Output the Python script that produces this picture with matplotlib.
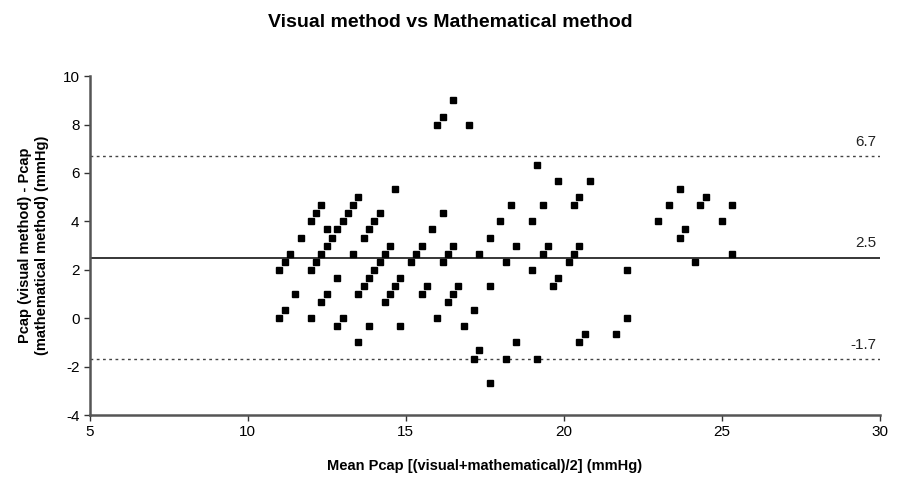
import matplotlib
matplotlib.use("Agg")
import matplotlib.pyplot as plt

plt.rcParams['font.family'] = ['Liberation Sans', 'DejaVu Sans']
plt.rcParams['axes.unicode_minus'] = False

# Bland-Altman data: mean of both methods (x) and difference (y), mmHg
mean_pcap = [11.0, 11.17, 11.33, 11.0, 11.17, 11.5, 11.67,
             12.0, 12.17, 12.33, 12.5, 12.67, 12.5, 12.33, 12.17, 12.0, 12.83, 12.5, 12.33, 12.0, 12.83, 13.0,
             13.0, 13.17, 13.33, 13.5, 12.83, 13.33, 13.67, 13.83, 14.0, 14.17, 13.5, 13.67, 13.83, 13.5, 13.83,
             14.67, 14.0, 14.17, 14.33, 14.5, 14.33, 14.5, 14.67, 14.83, 14.83,
             15.17, 15.33, 15.5, 15.5, 15.67, 15.83,
             16.0, 16.17, 16.5, 17.0, 16.17, 16.17, 16.33, 16.5, 16.0, 16.33, 16.5, 16.67, 16.83, 17.17, 17.17, 17.33, 17.33,
             17.67, 17.67, 17.67, 18.0, 18.33, 18.17, 18.5, 18.5, 18.17,
             19.17, 19.0, 19.33, 19.5, 19.33, 19.0, 19.17, 19.83, 19.83, 19.67,
             20.83, 20.5, 20.33, 20.5, 20.33, 20.17, 20.5, 20.67, 21.67, 22.0, 22.0,
             23.0, 23.33, 23.67, 23.67, 23.83, 24.17, 24.33, 24.5, 25.0, 25.33, 25.33]
diff_pcap = [2.0, 2.33, 2.67, 0.0, 0.33, 1.0, 3.33,
             4.0, 4.33, 4.67, 3.67, 3.33, 3.0, 2.67, 2.33, 2.0, 1.67, 1.0, 0.67, 0.0, -0.33, 0.0,
             4.0, 4.33, 4.67, 5.0, 3.67, 2.67, 3.33, 3.67, 4.0, 4.33, 1.0, 1.33, 1.67, -1.0, -0.33,
             5.33, 2.0, 2.33, 2.67, 3.0, 0.67, 1.0, 1.33, 1.67, -0.33,
             2.33, 2.67, 3.0, 1.0, 1.33, 3.67,
             8.0, 8.33, 9.0, 8.0, 4.33, 2.33, 2.67, 3.0, 0.0, 0.67, 1.0, 1.33, -0.33, 0.33, -1.67, -1.33, 2.67,
             3.33, 1.33, -2.67, 4.0, 4.67, 2.33, 3.0, -1.0, -1.67,
             6.33, 4.0, 4.67, 3.0, 2.67, 2.0, -1.67, 5.67, 1.67, 1.33,
             5.67, 5.0, 4.67, 3.0, 2.67, 2.33, -1.0, -0.67, -0.67, 2.0, 0.0,
             4.0, 4.67, 5.33, 3.33, 3.67, 2.33, 4.67, 5.0, 4.0, 4.67, 2.67]

mean_diff = 2.5
upper_loa = 6.7
lower_loa = -1.7

fig = plt.figure(figsize=(9.01, 4.8), dpi=100)
ax = fig.add_axes([0.0997, 0.1354, 0.8765, 0.7059])

ax.plot(mean_pcap, diff_pcap, 's', color='black', markersize=5, zorder=3)

ax.axhline(mean_diff, color='black', linewidth=1.1)
ax.axhline(upper_loa, color='#444444', linewidth=1, linestyle=(0, (2, 2.5)))
ax.axhline(lower_loa, color='#444444', linewidth=1, linestyle=(0, (2, 2.5)))

for val in [upper_loa, mean_diff, lower_loa]:
    ax.text(29.9, val + 0.3, f"{val:g}", ha='right', va='bottom', fontsize=11, color='#222222')

ax.set_xlim(5, 30)
ax.set_ylim(-4, 10)
ax.set_xticks(range(5, 31, 5))
ax.set_yticks(range(-4, 11, 2))

for side in ['top', 'right']:
    ax.spines[side].set_visible(False)
for side in ['left', 'bottom']:
    ax.spines[side].set_color('#555555')
    ax.spines[side].set_linewidth(1.8)
ax.tick_params(direction='out', length=4, width=1, colors='#333333', labelsize=11, labelcolor='black')

ax.set_xlabel("Mean Pcap [(visual+mathematical)/2] (mmHg)", fontsize=10.5, fontweight='bold', labelpad=14)
ax.set_ylabel("Pcap (visual method) - Pcap\n(mathematical method) (mmHg)", fontsize=10.5, fontweight='bold', labelpad=10)
fig.suptitle("Visual method vs Mathematical method", fontsize=14, fontweight='bold', y=0.97)

fig.savefig("out.png", dpi=100)
